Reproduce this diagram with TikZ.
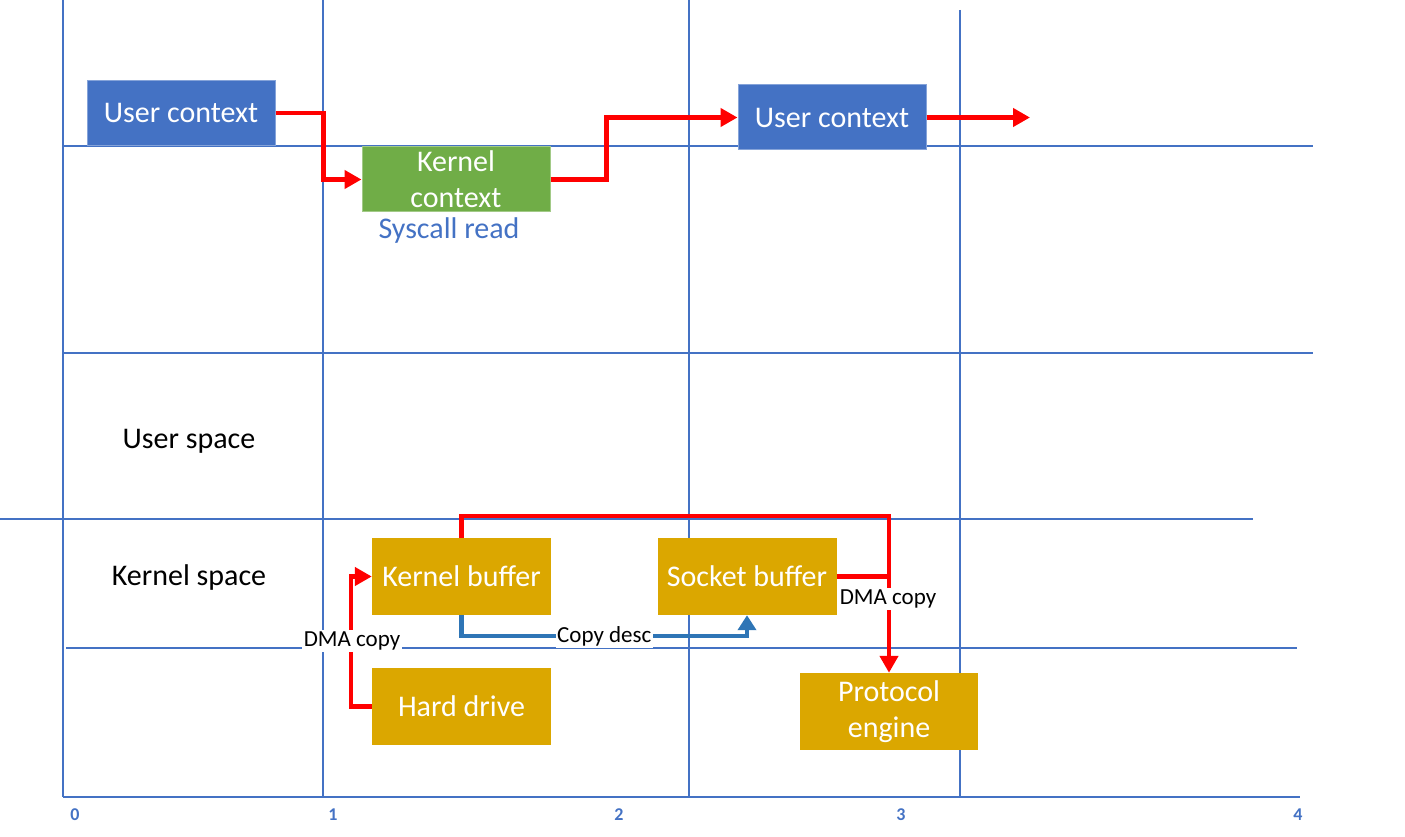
\documentclass[tikz,border=0pt]{standalone}
\usepackage{fontspec}
\setmainfont{Carlito}
\usetikzlibrary{arrows.meta}

\definecolor{gridblue}{RGB}{68,114,196}
\definecolor{ctxgreen}{RGB}{112,173,71}
\definecolor{bufgold}{RGB}{219,167,0}
\definecolor{descblue}{RGB}{46,117,182}

\begin{document}
\begin{tikzpicture}[x=1pt, y=-1pt, font=\fontsize{30}{36}\selectfont,
                    gridline/.style={gridblue, line width=1.3pt},
                    boxbase/.style={inner sep=0pt, align=center, text=white},
                    ctx/.style={boxbase, fill=#1, draw=#1!65!white, line width=1pt, minimum width=188pt, minimum height=65pt},
                    buf/.style={boxbase, fill=bufgold, minimum width=179pt, minimum height=77pt},
                    flow/.style={red, line width=4.5pt, -{Triangle[length=17pt, width=18pt]}},
                    descflow/.style={descblue, line width=4.5pt, -{Triangle[length=15pt, width=18pt]}},
                    tag/.style={fill=white, text=black, inner sep=1.5pt, font=\fontsize{23}{26}\selectfont},
                    axislbl/.style={text=gridblue, font=\fontsize{18}{20}\selectfont\bfseries}]
                    \useasboundingbox (0,0) rectangle (1405,837);

                    \foreach \x in {63,323,689} \draw[gridline] (\x,0) -- (\x,797);
                    \draw[gridline] (960,10) -- (960,797);
                    \draw[gridline] (63,146) -- (1313,146);
                    \draw[gridline] (63,353) -- (1313,353);
                    \draw[gridline] (0,519) -- (1253,519);
                    \draw[gridline] (66,648) -- (1297,648);
                    \draw[gridblue, line width=2.5pt] (63,797) -- (1300,797);
                    \foreach \x/\t in {75/0,333/1,619/2,901/3,1298/4}
                        \node[axislbl] (ax\t) at (\x,815) {\t};

                    \node (userspace) at (189,441) {User space};
                    \node (kernelspace) at (189,577) {Kernel space};

                    \node[ctx=gridblue] (uc1) at (181,113) {User context};
                    \node[ctx=ctxgreen] (kc) at (456,179.5) {Kernel\\context};
                    \node[text=gridblue] (syscall) at (449,231) {Syscall read};
                    \node[ctx=gridblue] (uc2) at (832,117.5) {User context};
                    \coordinate (exit) at (1030,117.5);

                    \node[buf] (kb) at (461.5,576.5) {Kernel buffer};
                    \node[buf] (sb) at (747,576.5) {Socket buffer};
                    \node[buf] (hd) at (461.5,706.5) {Hard drive};
                    \node[buf, minimum width=178pt] (pe) at (889,711.5) {Protocol\\engine};

                    \draw[flow] (uc1.east) -- ++(48,0) |- (kc.west);
                    \draw[flow] (kc.east) -- ++(56,0) |- (uc2.west);
                    \draw[flow] (uc2.east) -- (exit);

                    \draw[flow] (hd.west) -- ++(-21,0) |- (kb.west);
                    \draw[flow] (kb.north) -- ++(0,-22) -| (pe.north);
                    \draw[red, line width=4.5pt] (sb.east) -- (sb.east -| pe.north);
                    \draw[descflow] (kb.south) -- ++(0,21) -| node[tag, pos=0.25] (desc) {Copy desc} (sb.south);

                    \node[tag] (dma1) at (352,641) {DMA copy};
                    \node[tag] (dma2) at (888,599) {DMA copy};
                \end{tikzpicture}
\end{document}
